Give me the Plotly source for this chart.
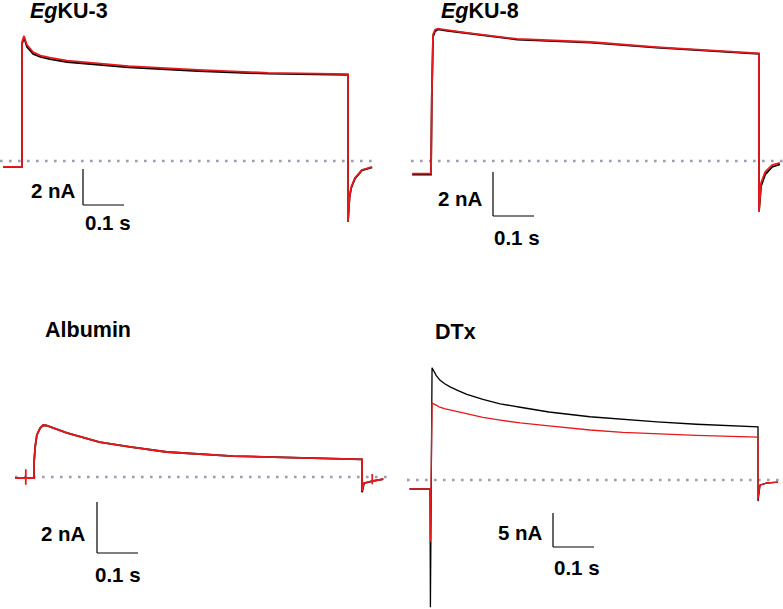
import plotly.graph_objects as go

W, H = 783, 609
PX_PER_S = 410  # horizontal scale shared by all panels

# ---- data: time (s) from pulse onset, current (nA) ----
titles = ["<i>Eg</i>KU-3", "<i>Eg</i>KU-8", "Albumin", "DTx"]
bar_nA = [2, 2, 2, 5]
bar_s = 0.1

egku3_t = [-0.046, 0.0, 0.0, 0.005, 0.012, 0.027, 0.045, 0.068, 0.11, 0.15, 0.26, 0.43, 0.6,
           0.795, 0.795, 0.799, 0.803, 0.812, 0.829, 0.854]
egku3_ctrl = [-0.33, -0.33, 6.5, 6.85, 6.35, 5.95, 5.78, 5.66, 5.5, 5.42, 5.2, 5.0, 4.85,
              4.78, -3.39, -2.0, -1.5, -0.98, -0.52, -0.35]
egku3_tox = [-0.33, -0.33, 6.6, 6.95, 6.45, 6.05, 5.86, 5.74, 5.58, 5.5, 5.27, 5.06, 4.9,
             4.83, -3.39, -1.95, -1.45, -0.94, -0.5, -0.33]

egku8_t = [-0.046, 0.0, 0.002, 0.005, 0.01, 0.017, 0.04, 0.088, 0.21, 0.39, 0.55,
           0.8, 0.8, 0.805, 0.815, 0.832, 0.851]
egku8_ctrl = [-0.62, -0.62, 2.9, 5.65, 5.9, 5.98, 5.92, 5.8, 5.52, 5.38, 5.15,
              4.87, -2.3, -1.15, -0.62, -0.27, -0.15]
egku8_tox = [-0.57, -0.57, 3.0, 5.75, 5.97, 6.02, 5.95, 5.82, 5.55, 5.41, 5.18,
             4.89, -2.28, -1.0, -0.5, -0.18, -0.09]

albumin_t = [-0.046, -0.02, -0.02, -0.02, -0.02, 0.0, 0.0, 0.003, 0.007, 0.015, 0.022, 0.03,
             0.08, 0.16, 0.234, 0.324, 0.485, 0.65, 0.8, 0.8, 0.805, 0.825, 0.825, 0.825,
             0.825, 0.852]
albumin_ctrl = [-0.04, -0.04, -0.04, -0.04, -0.04, -0.04, 0.55, 1.2, 1.65, 1.92, 2.03, 2.02,
                1.73, 1.37, 1.18, 0.98, 0.82, 0.75, 0.69, -0.6, -0.24, -0.16, -0.16, -0.16,
                -0.16, -0.08]
albumin_tox = [-0.04, -0.04, 0.3, -0.3, -0.04, -0.04, 0.55, 1.2, 1.65, 1.92, 2.03, 2.02,
               1.73, 1.37, 1.18, 0.98, 0.82, 0.75, 0.69, -0.55, -0.24, -0.16, 0.12, -0.28,
               -0.16, -0.08]

dtx_t = [-0.05, 0.0, 0.001, 0.005, 0.015, 0.024, 0.035, 0.049, 0.07, 0.09, 0.129, 0.171,
         0.22, 0.29, 0.39, 0.47, 0.554, 0.65, 0.8, 0.8, 0.805, 0.822, 0.849]
dtx_ctrl = [-1.32, -1.32, -18.7, 16.5, 15.4, 14.7, 14.2, 13.7, 13.1, 12.6, 11.85, 11.2,
            10.7, 10.0, 9.3, 8.9, 8.55, 8.2, 7.8, -3.1, -0.74, -0.44, -0.3]
dtx_tox = [-1.32, -1.32, -9.1, 11.3, 11.0, 10.7, 10.5, 10.3, 10.0, 9.7, 9.2, 8.8,
           8.4, 7.95, 7.35, 7.0, 6.75, 6.55, 6.3, -2.8, -0.74, -0.44, -0.3]

traces = [
    (egku3_t, egku3_ctrl, egku3_tox),
    (egku8_t, egku8_ctrl, egku8_tox),
    (albumin_t, albumin_ctrl, albumin_tox),
    (dtx_t, dtx_ctrl, dtx_tox),
]

# ---- layout of each panel, in pixels ----
panels = [
    dict(x0=22, y0=161, px_nA=18, box=(0, 22, 390, 240), zero=(0, 373), lw=1.8,
         bar=(83, 205), ylab=(78, 191), slab=(83, 222), title=(28, 11)),
    dict(x0=431, y0=161, px_nA=22, box=(390, 18, 783, 240), zero=(411, 783), lw=1.8,
         bar=(493, 216), ylab=(485, 199), slab=(492, 237), title=(439, 11)),
    dict(x0=34, y0=477, px_nA=25.5, box=(0, 340, 390, 609), zero=(15, 387), lw=1.8,
         bar=(97, 553), ylab=(88, 533), slab=(93, 574), title=(43, 330)),
    dict(x0=430, y0=480, px_nA=6.8, box=(390, 340, 783, 609), zero=(407, 783), lw=1.3,
         bar=(553, 547), ylab=(545, 532), slab=(552, 567), title=(433, 332)),
]

RED = "#e8191c"
FONT = dict(family="Liberation Sans, Arial, sans-serif", size=20.5, color="black")
TITLE_FONT = dict(FONT, size=21.5)

fig = go.Figure()
layout = {}
shapes, annotations = [], []

for i, (p, (t, ctrl, tox)) in enumerate(zip(panels, traces)):
    n = "" if i == 0 else str(i + 1)
    left, top, right, bottom = p["box"]
    xr = [(left - p["x0"]) / PX_PER_S, (right - p["x0"]) / PX_PER_S]
    yr = [(p["y0"] - bottom) / p["px_nA"], (p["y0"] - top) / p["px_nA"]]
    layout["xaxis" + n] = dict(domain=[left / W, right / W], range=xr, visible=False,
                               anchor="y" + n, fixedrange=True)
    layout["yaxis" + n] = dict(domain=[1 - bottom / H, 1 - top / H], range=yr, visible=False,
                               anchor="x" + n, fixedrange=True)

    def tx(px):
        return (px - p["x0"]) / PX_PER_S

    def iy(py):
        return (p["y0"] - py) / p["px_nA"]

    # zero-current reference
    fig.add_trace(go.Scatter(x=[tx(p["zero"][0]), tx(p["zero"][1])], y=[0, 0], mode="lines",
                             line=dict(color="#9c9cb2", width=2.6, dash="2.6px,6.4px"),
                             xaxis="x" + n, yaxis="y" + n, hoverinfo="skip"))
    fig.add_trace(go.Scatter(x=t, y=ctrl, mode="lines", line=dict(color="black", width=p["lw"]),
                             xaxis="x" + n, yaxis="y" + n, name="control"))
    fig.add_trace(go.Scatter(x=t, y=tox, mode="lines", line=dict(color=RED, width=p["lw"]),
                             xaxis="x" + n, yaxis="y" + n, name=titles[i]))

    # scale bar
    cx, cy = tx(p["bar"][0]), iy(p["bar"][1])
    for x0_, y0_, x1_, y1_ in [(cx, cy, cx, cy + bar_nA[i]), (cx, cy, cx + bar_s, cy)]:
        shapes.append(dict(type="line", xref="x" + n, yref="y" + n, x0=x0_, y0=y0_,
                           x1=x1_, y1=y1_, line=dict(color="black", width=1.2)))
    annotations.append(dict(text="<b>%d nA</b>" % bar_nA[i], xref="paper", yref="paper",
                            x=p["ylab"][0] / W, y=1 - p["ylab"][1] / H, xanchor="right",
                            yanchor="middle", showarrow=False, font=FONT))
    annotations.append(dict(text="<b>%g s</b>" % bar_s, xref="paper", yref="paper",
                            x=p["slab"][0] / W, y=1 - p["slab"][1] / H, xanchor="left",
                            yanchor="middle", showarrow=False, font=FONT))
    annotations.append(dict(text="<b>%s</b>" % titles[i], xref="paper", yref="paper",
                            x=p["title"][0] / W, y=1 - p["title"][1] / H, xanchor="left",
                            yanchor="middle", showarrow=False, font=TITLE_FONT))

fig.update_layout(width=W, height=H, margin=dict(l=0, r=0, t=0, b=0),
                  paper_bgcolor="white", plot_bgcolor="white", showlegend=False,
                  shapes=shapes, annotations=annotations, **layout)

# page body has an 8px default margin; drop it so the figure fills the window
fig.write_html("out.html", config={"displayModeBar": False},
               post_script="document.body.style.margin='0';document.body.style.overflow='hidden';")
